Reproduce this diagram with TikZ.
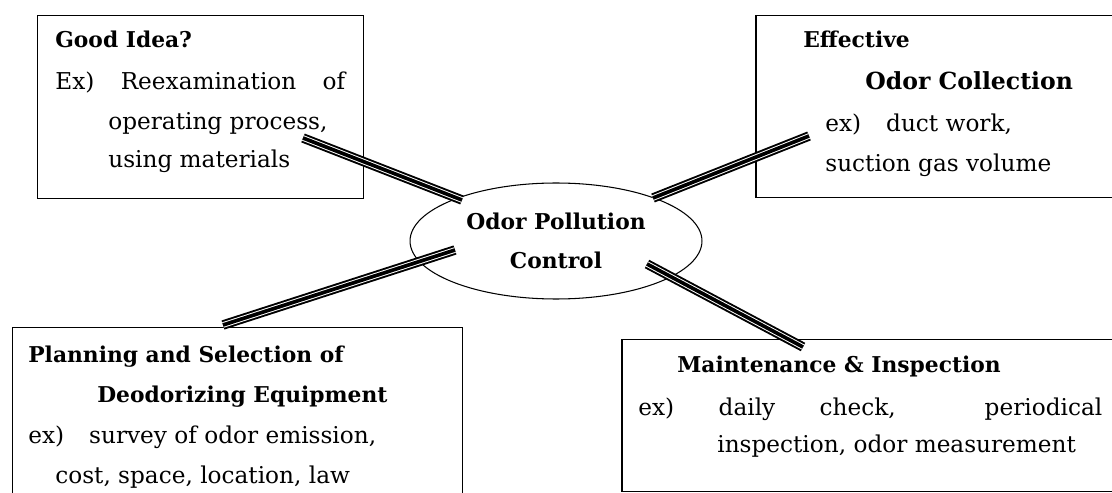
\documentclass[tikz,border=0pt]{standalone}
\usepackage{fontspec}
\setmainfont{DejaVu Serif}
\usepackage{tikz}
\usetikzlibrary{shapes.geometric}
\tikzset{
  box/.style={draw, line width=0.85pt, anchor=north west, inner sep=0pt},
  head/.style={anchor=base west, inner sep=0pt, font=\fontsize{12.4}{16}\selectfont\bfseries},
  body/.style={anchor=base west, inner sep=0pt, font=\fontsize{13.2}{16}\selectfont},
  hub/.style={draw, ellipse, line width=0.6pt, minimum width=5.84cm, minimum height=2.32cm,
    align=center, font=\fontsize{12.4}{22}\selectfont\bfseries},
  triple/.style={line width=5.4pt, postaction={draw=white, line width=3.2pt},
    postaction={draw=black, line width=2.1pt}}
}

\begin{document}
\begin{tikzpicture}[x=0.02cm, y=-0.02cm]
  \useasboundingbox (0,0) rectangle (1112,493);
  \clip (0,0) rectangle (1112,493);

  % boxes
  \node[box, minimum width=6.52cm, minimum height=3.66cm] (idea) at (37,15) {};
  \node[box, minimum width=8cm, minimum height=3.64cm] (collect) at (755,15) {};
  \node[box, minimum width=9cm, minimum height=4cm] (plan) at (12,327) {};
  \node[box, minimum width=10.4cm, minimum height=3.04cm] (maint) at (621,339) {};

  % centre
  \node[hub] (ctrl) at (556,241) {Odor Pollution\\Control};

  % texts
  \node[head] (idea-t) at (55,48) {Good Idea?};
  \node[body] (idea-1) at (55,90) {\makebox[5.8cm][l]{Ex)\hfill Reexamination\hfill of}};
  \node[body] (idea-2) at (108,130) {operating process,};
  \node[body] (idea-3) at (108,168) {using materials};

  \node[head] (collect-t) at (803,48) {Effective};
  \node[head, font=\fontsize{13.4}{16}\selectfont\bfseries] (collect-s) at (865,90) {Odor Collection};
  \node[body] (collect-1) at (825,132) {ex)\hspace{0.5cm}duct work,};
  \node[body] (collect-2) at (825,172) {suction gas volume};

  \node[head] (plan-t) at (28,362) {Planning and Selection of};
  \node[head] (plan-s) at (97,402) {Deodorizing Equipment};
  \node[body] (plan-1) at (28,443) {ex)\hspace{0.5cm}survey of odor emission,};
  \node[body] (plan-2) at (55,483) {cost, space, location, law};

  \node[head] (maint-t) at (677,372) {Maintenance \& Inspection};
  \node[body] (maint-1) at (638,415)
    {\makebox[9.28cm][l]{ex)\hspace{\stretch{1}}daily\hspace{\stretch{1}}check,\hspace{\stretch{2}}periodical}};
  \node[body] (maint-2) at (717,452) {inspection, odor measurement};

  % connectors
  \coordinate (idea-tip) at (303,138);
  \coordinate (ctrl-nw) at (462,200);
  \coordinate (collect-tip) at (809,136);
  \coordinate (ctrl-ne) at (653,198);
  \coordinate (plan-tip) at (223,325);
  \coordinate (ctrl-sw) at (455,250);
  \coordinate (maint-tip) at (803,347);
  \coordinate (ctrl-se) at (647,264);

  \draw[triple] (idea-tip) -- (ctrl-nw);
  \draw[triple] (ctrl-ne) -- (collect-tip);
  \draw[triple] (plan-tip) -- (ctrl-sw);
  \draw[triple] (ctrl-se) -- (maint-tip);
\end{tikzpicture}
\end{document}
